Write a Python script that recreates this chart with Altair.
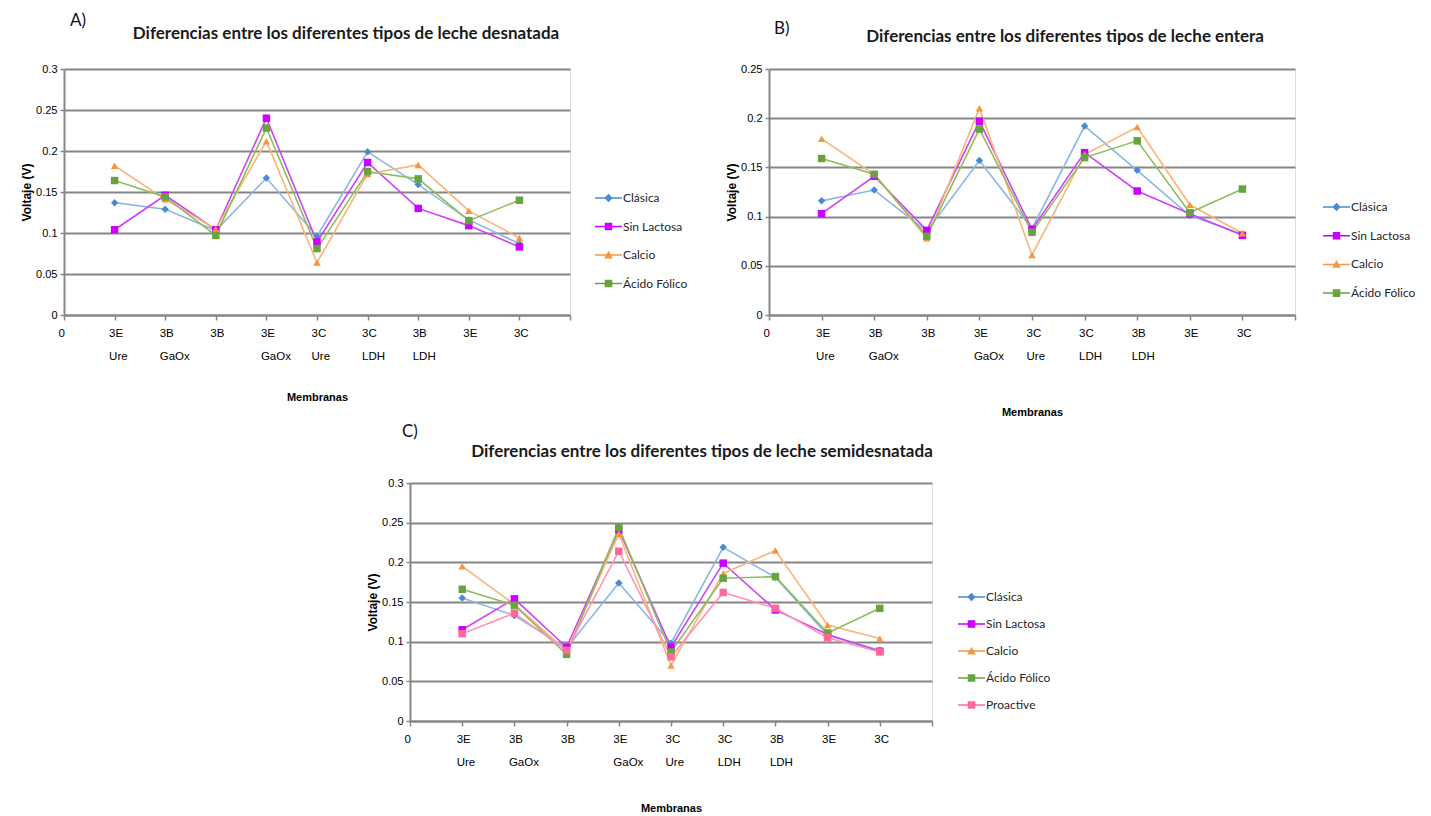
import json
import altair as alt
import pandas as pd

FONT = "Lato"

# Membrane positions on the x axis and their (two-line) labels, "|" separates lines
posiciones = [1, 2, 3, 4, 5, 6, 7, 8, 9]
etiquetas_x = ["\u00a00", "3E|Ure", "3B|GaOx", "3B", "3E|\u00a0\u00a0GaOx", "3C|\u00a0\u00a0Ure",
               "3C|LDH", "3B|\u00a0LDH", "3E", "3C", ""]

series = ["Clásica", "Sin Lactosa", "Calcio", "Ácido Fólico", "Proactive"]
color_marcador = ["#4a8bd0", "#cc00ff", "#f7963f", "#69a340", "#ff6a9a"]
color_linea = ["#8cb6e4", "#d040f5", "#f9b477", "#8dbd5c", "#ff93b6"]
formas = ["diamond", "square", "triangle-up", "square", "square"]
# legend keys: short line segment with the series marker on top
_seg = "M-1,-0.055H1V0.055H-1Z "
formas_leyenda = [
    _seg + "M0,-0.31L0.31,0L0,0.31L-0.31,0Z",
    _seg + "M-0.28,-0.28H0.28V0.28H-0.28Z",
    _seg + "M0,-0.32L0.32,0.25L-0.32,0.25Z",
    _seg + "M-0.28,-0.28H0.28V0.28H-0.28Z",
    _seg + "M-0.28,-0.28H0.28V0.28H-0.28Z",
]

# Voltaje (V) per membrane, skimmed milk
desnatada_clasica = [0.137, 0.129, 0.103, 0.167, 0.096, 0.199, 0.159, 0.116, 0.087]
desnatada_sin_lactosa = [0.104, 0.146, 0.104, 0.240, 0.089, 0.186, 0.130, 0.109, 0.083]
desnatada_calcio = [0.182, 0.141, 0.105, 0.212, 0.064, 0.172, 0.183, 0.127, 0.094]
desnatada_folico = [0.164, 0.144, 0.097, 0.228, 0.081, 0.175, 0.166, 0.115, 0.140]

# whole milk
entera_clasica = [0.116, 0.127, 0.085, 0.157, 0.088, 0.192, 0.147, 0.101, 0.082]
entera_sin_lactosa = [0.103, 0.141, 0.086, 0.197, 0.087, 0.165, 0.126, 0.103, 0.081]
entera_calcio = [0.179, 0.143, 0.078, 0.210, 0.061, 0.163, 0.191, 0.112, 0.083]
entera_folico = [0.159, 0.143, 0.080, 0.189, 0.084, 0.160, 0.177, 0.104, 0.128]

# semi-skimmed milk
semi_clasica = [0.155, 0.133, 0.092, 0.174, 0.098, 0.219, 0.181, 0.108, 0.089]
semi_sin_lactosa = [0.115, 0.154, 0.093, 0.241, 0.093, 0.199, 0.140, 0.109, 0.088]
semi_calcio = [0.195, 0.147, 0.088, 0.236, 0.070, 0.186, 0.215, 0.121, 0.104]
semi_folico = [0.166, 0.146, 0.084, 0.244, 0.087, 0.180, 0.182, 0.111, 0.142]
semi_proactive = [0.110, 0.136, 0.089, 0.214, 0.081, 0.162, 0.142, 0.105, 0.087]

ticks_03 = [0, 0.05, 0.1, 0.15, 0.2, 0.25, 0.3]
ticks_025 = [0, 0.05, 0.1, 0.15, 0.2, 0.25]

label_expr = "split(" + json.dumps(etiquetas_x, ensure_ascii=False) + "[datum.value], '|')"

GRIS = "#868686"


def panel(letra, titulo, valores, yticks, ancho, alto, leg_xy, row_pad,
          letra_xy, titulo_xy, xtitle_pad):
    n = len(valores)
    nombres = series[:n]
    filas = [{"pos": p, "v": v, "serie": s}
             for s, vals in zip(nombres, valores) for p, v in zip(posiciones, vals)]
    df = pd.DataFrame(filas)

    x = alt.X("pos:Q", scale=alt.Scale(domain=[0, 10], nice=False, zero=False),
              axis=alt.Axis(values=list(range(11)), labelExpr=label_expr, labelAlign="left",
                            labelOffset=-6, labelBaseline="top", labelPadding=7,
                            labelLineHeight=23, labelFontSize=11.5, labelOverlap=False,
                            labelFlush=False, tickSize=5, grid=False, title="Membranas",
                            titleFontSize=11, titleFontWeight="bold", titlePadding=xtitle_pad,
                            domainColor=GRIS, domainWidth=2, tickColor=GRIS, tickWidth=1.5))
    y = alt.Y("v:Q", scale=alt.Scale(domain=[0, yticks[-1]], nice=False),
              axis=alt.Axis(values=yticks, format=".2~f", tickSize=4, labelPadding=3,
                            labelFontSize=11, grid=True, gridOpacity=1, gridColor=GRIS,
                            gridWidth=2, domainColor=GRIS, domainWidth=2, tickColor=GRIS,
                            tickWidth=1.5, title="Voltaje (V)",
                            titleFontSize=12, titleFontWeight="bold", titlePadding=2))

    base = alt.Chart(df)
    lineas = base.mark_line(strokeWidth=1.6).encode(
        x=x, y=y,
        stroke=alt.Stroke("serie:N", scale=alt.Scale(domain=nombres, range=color_linea[:n]),
                          legend=None),
        order="pos:Q",
    )
    puntos = base.mark_point(filled=True, opacity=1, size=56).encode(
        x=x, y=y,
        fill=alt.Fill("serie:N", scale=alt.Scale(domain=nombres, range=color_marcador[:n]),
                      legend=None),
        shape=alt.Shape("serie:N", scale=alt.Scale(domain=nombres, range=formas[:n]),
                        legend=None),
    )
    leg = alt.Legend(title=None, orient="none", legendX=leg_xy[0], legendY=leg_xy[1],
                     symbolSize=729, labelFont=FONT, labelFontSize=12, labelColor="#262626",
                     rowPadding=row_pad, labelOffset=0)
    leyenda = base.transform_filter("false").mark_point(filled=True, opacity=1).encode(
        x=x, y=y,
        color=alt.Color("serie:N", scale=alt.Scale(domain=nombres, range=color_marcador[:n]),
                        legend=leg),
        shape=alt.Shape("serie:N", scale=alt.Scale(domain=nombres, range=formas_leyenda[:n]),
                        legend=leg),
    )
    rotulo = alt.Chart(pd.DataFrame({"t": [letra]})).mark_text(
        font=FONT, fontSize=17, align="left", baseline="middle", color="#111111"
    ).encode(text="t:N", x=alt.value(letra_xy[0]), y=alt.value(letra_xy[1]))
    cabecera = alt.Chart(pd.DataFrame({"t": [titulo]})).mark_text(
        font=FONT, fontSize=17, fontWeight="bold", align="center", baseline="middle",
        color="#1a1a1a"
    ).encode(text="t:N", x=alt.value(titulo_xy[0]), y=alt.value(titulo_xy[1]))

    return alt.layer(lineas, puntos, leyenda, rotulo, cabecera).resolve_scale(
        shape="independent", color="independent"
    ).properties(width=ancho, height=alto)


panel_a = panel("A)", "Diferencias entre los diferentes tipos de leche desnatada",
                [desnatada_clasica, desnatada_sin_lactosa, desnatada_calcio, desnatada_folico],
                ticks_03, 506, 246, (530, 114.5), 7.5, (6, -48), (282, -35), 30)
panel_b = panel("B)", "Diferencias entre los diferentes tipos de leche entera",
                [entera_clasica, entera_sin_lactosa, entera_calcio, entera_folico],
                ticks_025, 526, 246, (553, 123.5), 7.7, (5, -40), (296, -32), 45)
panel_c = panel("C)", "Diferencias entre los diferentes tipos de leche semidesnatada",
                [semi_clasica, semi_sin_lactosa, semi_calcio, semi_folico, semi_proactive],
                ticks_03, 522, 238, (547, 99.5), 6, (-8, -51), (292, -31), 35)

hueco = alt.Chart(pd.DataFrame({"v": [0]})).mark_point(opacity=0).properties(width=346, height=1)

fila_1 = alt.hconcat(panel_a, panel_b, spacing=199, bounds="flush")
fila_2 = alt.hconcat(hueco, panel_c, spacing=0, bounds="flush")

chart = alt.vconcat(fila_1, fila_2, spacing=414, bounds="flush").resolve_scale(
    color="independent", shape="independent", fill="independent", stroke="independent"
).properties(
    padding={"left": 20, "top": 11, "right": 0, "bottom": 0}
).configure_view(stroke=None).configure_axis(
    labelFont=FONT, titleFont=FONT, labelColor="#262626", titleColor="#262626"
).configure(background="white")

chart.save("out.html", embed_options={"renderer": "svg", "actions": False})
